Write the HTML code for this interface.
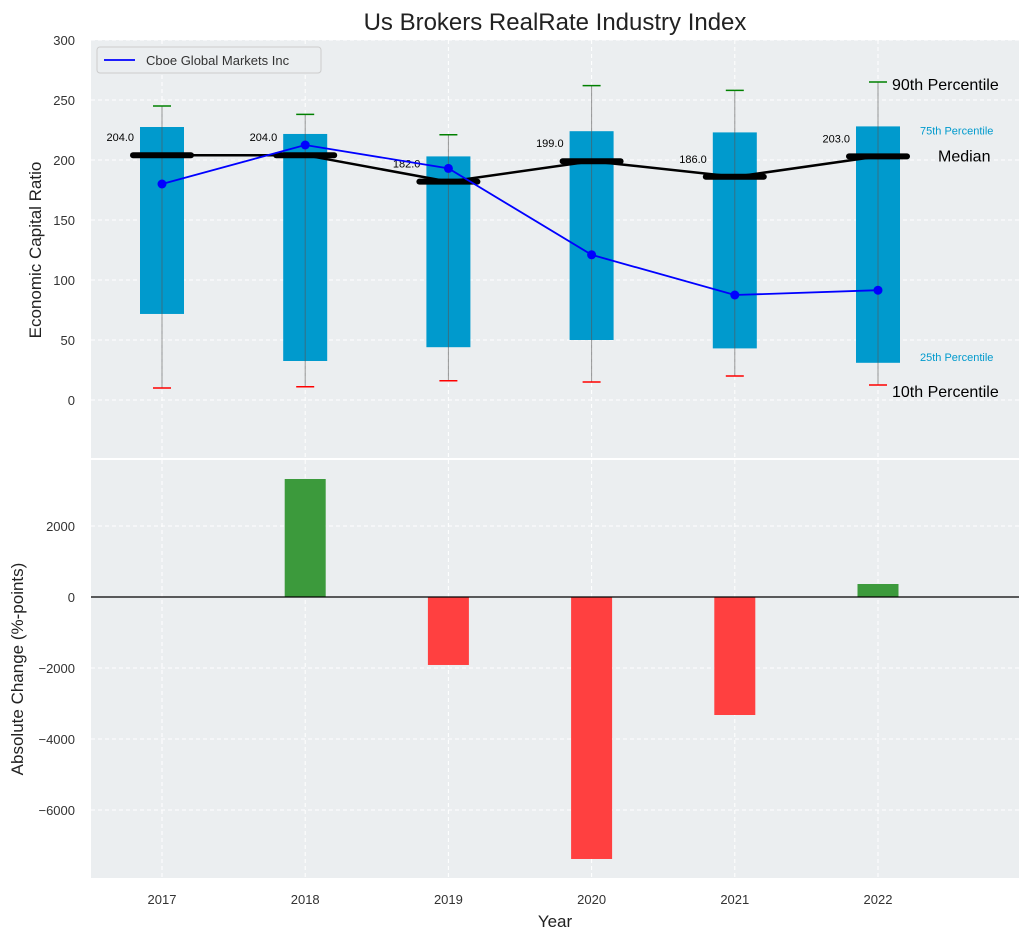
<!DOCTYPE html>
<html><head><meta charset="utf-8">
<style>
body{margin:0;background:#fff;font-family:"Liberation Sans",sans-serif;}
svg text{font-family:"Liberation Sans",sans-serif;}
</style></head>
<body>
<svg id="chart" width="1029" height="940" xmlns="http://www.w3.org/2000/svg"></svg>
<script>
const years=["2017","2018","2019","2020","2021","2022"];
const p10=[10,11,16,15,20,12.5];
const p25=[71.7,32.5,44,50,43,31];
const medians=[204,204,182,199,186,203];
const p75=[227.5,221.7,203,224,223,228];
const p90=[245,238,221,262,258,265];
const company=[180,212.5,193,121,87.5,91.5];
const changes=[0,3324,-1915,-7380,-3324,366];
const topTicks=[0,50,100,150,200,250,300];
const botTicks=[-6000,-4000,-2000,0,2000];

const svg=document.getElementById('chart');
const NS="http://www.w3.org/2000/svg";
function el(tag,attrs,parent){const e=document.createElementNS(NS,tag);for(const k in attrs)e.setAttribute(k,attrs[k]);(parent||svg).appendChild(e);return e;}
const L=91,R=1019;
const xS=i=>162+i*143.2;
const yT=v=>400-v*1.2;
const yB=v=>597-v*0.0355;

let bg1=el('rect',{x:L,y:40,width:R-L,height:418,fill:'#ebeef0'});

let bg2=el('rect',{x:L,y:460,width:R-L,height:418,fill:'#ebeef0'});


years.forEach((y,i)=>{
  el('line',{x1:xS(i),x2:xS(i),y1:40,y2:458,stroke:'#fff','stroke-dasharray':'4,3'});
  el('line',{x1:xS(i),x2:xS(i),y1:460,y2:878,stroke:'#fff','stroke-dasharray':'4,3'});
  let t=el('text',{x:xS(i),y:904,'text-anchor':'middle','font-size':13,fill:'#333'});t.textContent=y;
  
});
topTicks.forEach(v=>{
  el('line',{x1:L,x2:R,y1:yT(v),y2:yT(v),stroke:'#fff','stroke-dasharray':'4,3'});
  let t=el('text',{x:L-16,y:yT(v)+5,'text-anchor':'end','font-size':13,fill:'#333'});t.textContent=v;
  
});
botTicks.forEach(v=>{
  el('line',{x1:L,x2:R,y1:yB(v),y2:yB(v),stroke:'#fff','stroke-dasharray':'4,3'});
  let t=el('text',{x:L-16,y:yB(v)+5,'text-anchor':'end','font-size':13,fill:'#333'});t.textContent=v<0?'\u2212'+(-v):v;
  
});

years.forEach((y,i)=>{
  const x=xS(i);
  let b=el('rect',{x:x-22,y:yT(p75[i]),width:44,height:yT(p25[i])-yT(p75[i]),fill:'#009acd'});
  
  el('line',{x1:x,x2:x,y1:yT(p90[i]),y2:yT(p10[i]),stroke:'#555','stroke-opacity':0.6,'stroke-width':1});
  let w1=el('line',{x1:x-9,x2:x+9,y1:yT(p90[i]),y2:yT(p90[i]),stroke:'green','stroke-width':1.5});
  
  let w2=el('line',{x1:x-9,x2:x+9,y1:yT(p10[i]),y2:yT(p10[i]),stroke:'red','stroke-width':1.5});
  
});
let mp=el('polyline',{points:medians.map((m,i)=>xS(i)+','+yT(m)).join(' '),fill:'none',stroke:'#000','stroke-width':2.5});

medians.forEach((m,i)=>{
  let s=el('line',{x1:xS(i)-29,x2:xS(i)+29,y1:yT(m),y2:yT(m),stroke:'#000','stroke-width':6,'stroke-linecap':'round'});
  
  let t=el('text',{x:xS(i)-28,y:yT(m)-14,'text-anchor':'end','font-size':11,fill:'#000'});t.textContent=m.toFixed(1);
  
});
let cp=el('polyline',{points:company.map((c,i)=>xS(i)+','+yT(c)).join(' '),fill:'none',stroke:'#0000ff','stroke-width':1.8});

company.forEach((c,i)=>{let d=el('circle',{cx:xS(i),cy:yT(c),r:4.5,fill:'#0000ff'});
  });

const ax=xS(5);
[['90th Percentile',ax+14,yT(p90[5])+8,16,'#000'],['75th Percentile',ax+42,yT(p75[5])+8,11,'#009acd'],['Median',ax+60,yT(medians[5])+5,16,'#000'],['25th Percentile',ax+42,yT(p25[5])-2,11,'#009acd'],['10th Percentile',ax+14,yT(p10[5])+12,16,'#000']].forEach(a=>{
  let t=el('text',{x:a[1],y:a[2],'font-size':a[3],fill:a[4]});t.textContent=a[0];
  
});

let lg=el('g',{});
el('rect',{x:97,y:47,width:224,height:26,rx:3,fill:'#ebeef0',stroke:'#ccc'},lg);
el('line',{x1:104,x2:135,y1:60,y2:60,stroke:'#0000ff','stroke-width':1.8},lg);
let lt=el('text',{x:146,y:65,'font-size':13,fill:'#333'},lg);lt.textContent='Cboe Global Markets Inc';

changes.forEach((c,i)=>{
  const y0=yB(0),y1=yB(c);
  let b=el('rect',{x:xS(i)-20.5,y:Math.min(y0,y1),width:41,height:Math.abs(y1-y0),fill:c>=0?'#3c9a3c':'#ff4040'});
  
});
el('line',{x1:L,x2:R,y1:yB(0),y2:yB(0),stroke:'#000','stroke-width':1.2});

let ti=el('text',{x:555,y:30,'text-anchor':'middle','font-size':24,fill:'#222'});ti.textContent='Us Brokers RealRate Industry Index';

let xt=el('text',{x:555,y:927,'text-anchor':'middle','font-size':17,fill:'#222'});xt.textContent='Year';

let y1t=el('text',{x:0,y:0,'text-anchor':'middle','font-size':17,fill:'#222',transform:'translate(41,250) rotate(-90)'});y1t.textContent='Economic Capital Ratio';

let y2t=el('text',{x:0,y:0,'text-anchor':'middle','font-size':17,fill:'#222',transform:'translate(23,669) rotate(-90)'});y2t.textContent='Absolute Change (%-points)';

</script>
</body></html>
